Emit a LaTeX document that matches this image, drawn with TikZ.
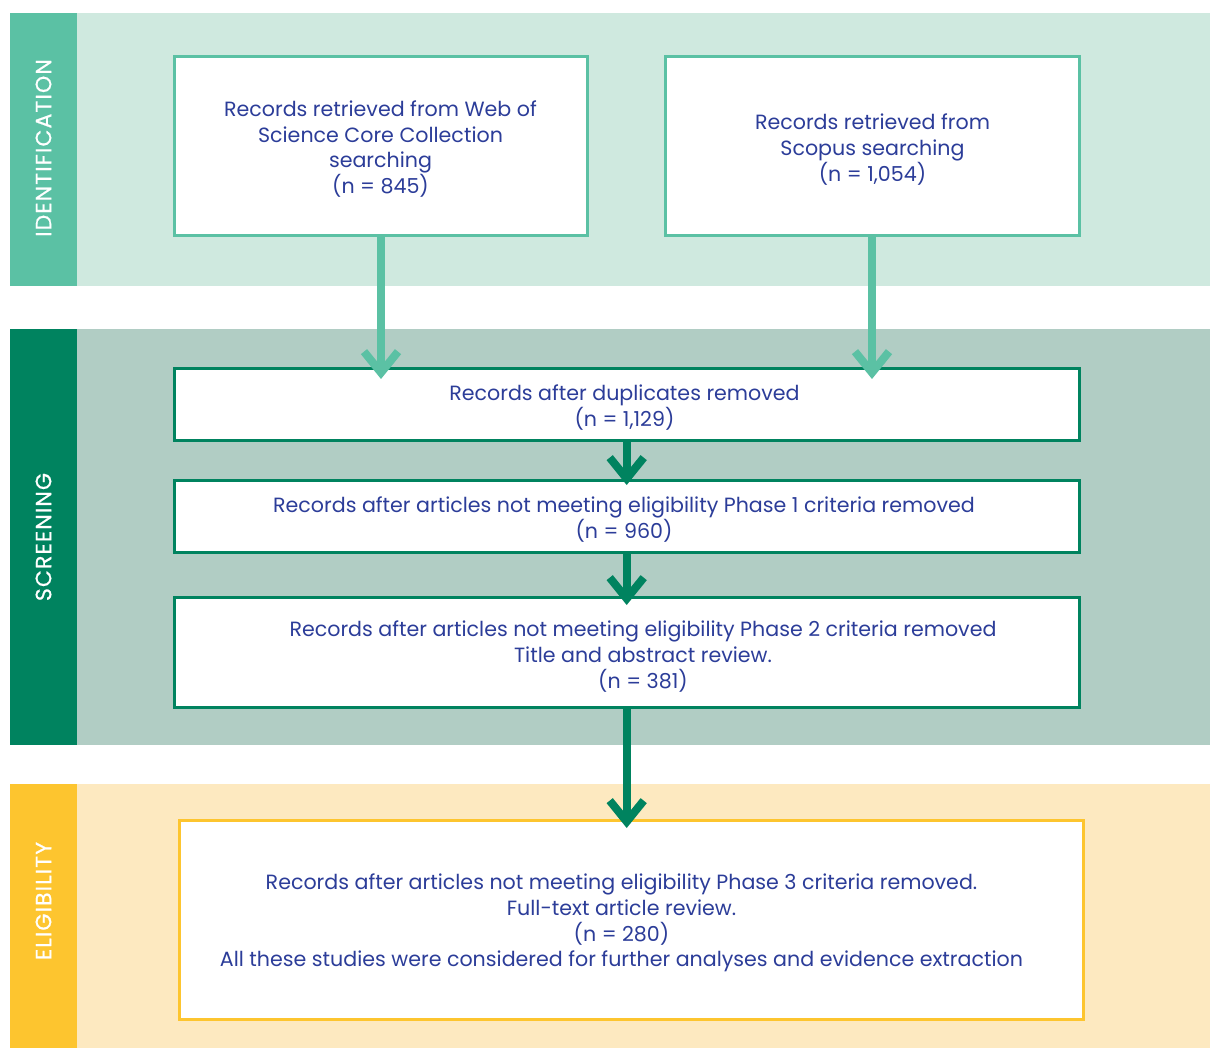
\documentclass[tikz,border=0pt]{standalone}
\usepackage{fontspec}
\setmainfont{Poppins}
\newfontfamily\stagefont[LetterSpace=5,FakeBold=0.6]{Poppins}
\usetikzlibrary{arrows.meta}
\definecolor{txtblue}{HTML}{2C3D99}
\definecolor{idstrip}{HTML}{5BC1A4}
\definecolor{idband}{HTML}{CFE9DF}
\definecolor{scstrip}{HTML}{00835F}
\definecolor{scband}{HTML}{B1CDC4}
\definecolor{elstrip}{HTML}{FDC52F}
\definecolor{elband}{HTML}{FDE9C0}
\tikzset{
  recbox/.style={draw=#1, fill=white, line width=3pt},
  rectext/.style={text=txtblue, align=center, font=\fontsize{20.6}{25.6}\selectfont},
  phase/.style={text=white, rotate=90, font=\stagefont\fontsize{22}{24}\selectfont},
  flow/.style={draw=#1, line width=8pt, -{Straight Barb[length=21pt, width=34pt, line width=8pt]}},
}
\begin{document}
\begin{tikzpicture}[x=1pt, y=-1pt]
\useasboundingbox (0,0) rectangle (1210,1048);
% stage bands
\fill[idband] (77,13) rectangle (1210,286);
\fill[idstrip] (10,13) rectangle (77,286);
\fill[scband] (77,329) rectangle (1210,745);
\fill[scstrip] (10,329) rectangle (77,745);
\fill[elband] (77,784) rectangle (1210,1048);
\fill[elstrip] (10,784) rectangle (77,1048);
\node[phase] (lid) at (43.5,148) {IDENTIFICATION};
\node[phase] (lsc) at (43.5,537) {SCREENING};
\node[phase] (lel) at (43.5,901) {ELIGIBILITY};
% record boxes
\path[recbox=idstrip] (174.5,57) rectangle (587,235.5);
\coordinate (wosS) at (381,235.5);
\path[recbox=idstrip] (665.5,57) rectangle (1079,235.5);
\coordinate (scoS) at (872,235.5);
\path[recbox=scstrip] (174.5,368.5) rectangle (1079,440);
\path[recbox=scstrip] (174.5,480.5) rectangle (1079,552);
\path[recbox=scstrip] (174.5,597.5) rectangle (1079,707);
\path[recbox=elstrip] (179,820) rectangle (1083,1019.5);
\node[rectext] (wos) at (380.5,149) {Records retrieved from Web of\\Science Core Collection\\searching\\(n = 845)};
\node[rectext] (sco) at (872.5,149.5) {Records retrieved from\\Scopus searching\\(n = 1,054)};
\node[rectext] (dup) at (624.5,407.5) {Records after duplicates removed\\(n = 1,129)};
\node[rectext] (ph1) at (624,519.5) {Records after articles not meeting eligibility Phase 1 criteria removed\\(n = 960)};
\node[rectext] (ph2) at (643,656.5) {Records after articles not meeting eligibility Phase 2 criteria removed\\Title and abstract review.\\(n = 381)};
\node[rectext] (ph3) at (621.5,923) {Records after articles not meeting eligibility Phase 3 criteria removed.\\Full-text article review.\\(n = 280)\\All these studies were considered for further analyses and evidence extraction};
% connectors
\coordinate (t1) at (381,379);
\coordinate (t2) at (872,379);
\coordinate (d0) at (626.7,440);
\coordinate (t3) at (626.7,485);
\coordinate (d1) at (626.7,552);
\coordinate (t4) at (626.7,605);
\coordinate (d2) at (626.7,707);
\coordinate (t5) at (626.7,828);
\draw[flow=idstrip] (wosS) -- (t1);
\draw[flow=idstrip] (scoS) -- (t2);
\draw[flow=scstrip] (d0) -- (t3);
\draw[flow=scstrip] (d1) -- (t4);
\draw[flow=scstrip] (d2) -- (t5);
\end{tikzpicture}
\end{document}
